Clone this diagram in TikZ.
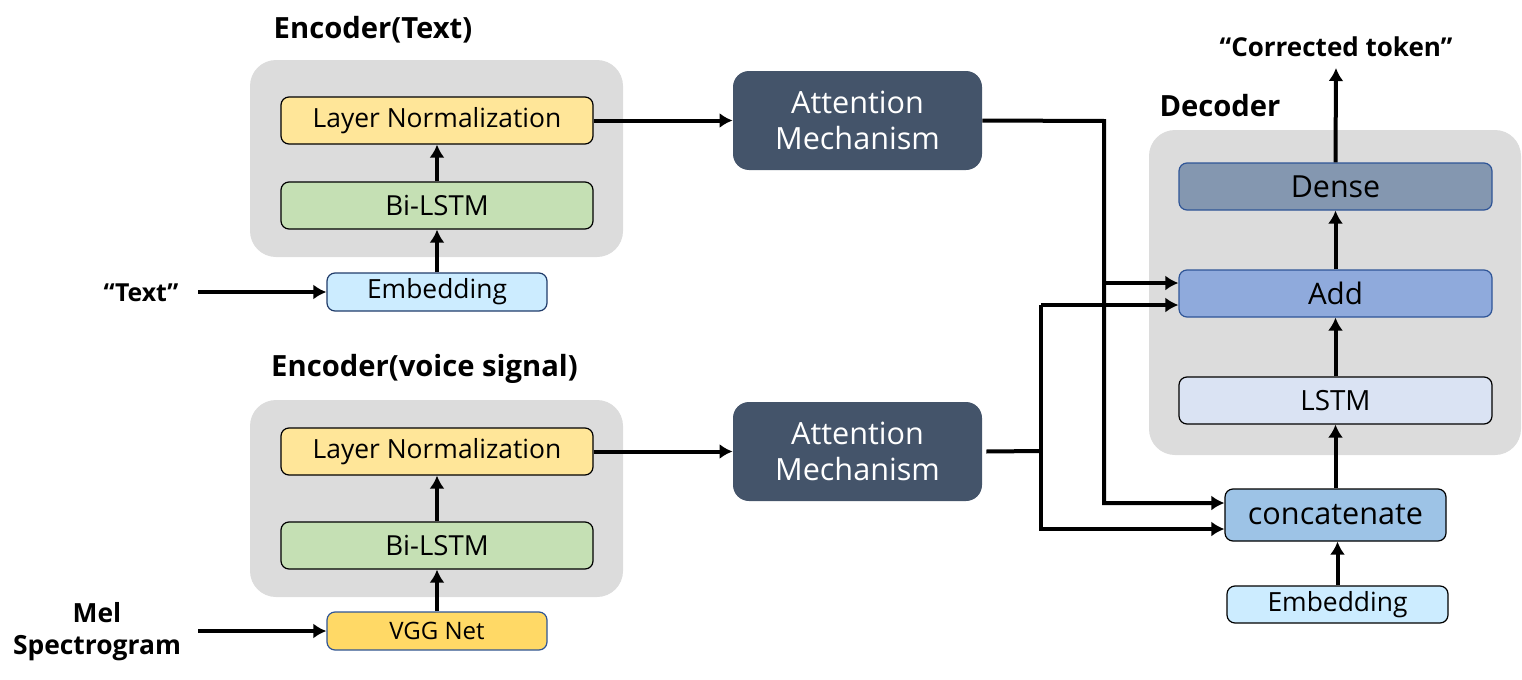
\documentclass[tikz,border=0pt]{standalone}
\usepackage{fontspec}
\setmainfont{Open Sans}
\usetikzlibrary{arrows.meta}
\definecolor{grayb}{HTML}{DCDCDC}
\definecolor{lnY}{HTML}{FFE699}
\definecolor{biG}{HTML}{C5E0B4}
\definecolor{embB}{HTML}{CCECFF}
\definecolor{vggY}{HTML}{FFD966}
\definecolor{attC}{HTML}{44546A}
\definecolor{denseC}{HTML}{8497B0}
\definecolor{addC}{HTML}{8FAADC}
\definecolor{lstmC}{HTML}{DAE3F3}
\definecolor{catC}{HTML}{9DC3E6}
\definecolor{bord}{HTML}{2F5597}
\tikzset{
  arr/.style={line width=2pt,-{Latex[length=6.5pt,width=7.5pt]}},
  ln/.style={line width=2pt},
  grp/.style={fill=grayb,draw=none,rounded corners=13pt},
  blk/.style={draw=black,line width=0.6pt,rounded corners=4pt,inner sep=0pt,align=center,font=\fontsize{13.2}{15}\selectfont},
  wide/.style={blk,minimum width=156pt,minimum height=23.5pt},
  small/.style={blk,minimum width=110pt,minimum height=19pt},
  att/.style={fill=attC,draw=none,rounded corners=8pt,text=white,minimum width=124.5pt,minimum height=49.5pt,align=center,inner sep=0pt,font=\fontsize{15.3}{18}\selectfont},
  ttl/.style={font=\bfseries\fontsize{14.6}{16}\selectfont,inner sep=0pt},
}
\begin{document}
\begin{tikzpicture}[x=0.5pt,y=-0.5pt]
\useasboundingbox (0,0) rectangle (1522,680);
% groups
\fill[grp] (250,60) rectangle (623,257);
\fill[grp] (250,400) rectangle (623,597);
\fill[grp] (1149,130) rectangle (1521,455);
% titles
\node[ttl] (t1) at (373,30) {Encoder(Text)};
\node[ttl] (t2) at (424.5,369) {Encoder(voice signal)};
\node[ttl] (t3) at (1220,106) {Decoder};
\node[ttl,font=\bfseries\fontsize{13}{15}\selectfont] (out) at (1336,47) {“Corrected token”};
\node[ttl,font=\bfseries\fontsize{12.4}{15}\selectfont] (txt) at (141,293) {“Text”};
\node[ttl,align=center,font=\bfseries\fontsize{13.2}{16}\selectfont] (mel) at (97,632) {Mel\\Spectrogram};
% encoder text
\node[wide,fill=lnY] (ln1) at (437,120.5) {Layer Normalization};
\node[wide,fill=biG,font=\fontsize{13.8}{16}\selectfont] (bi1) at (437,205.5) {Bi-LSTM};
\node[small,fill=embB,draw=bord!70!black] (emb1) at (437,292) {Embedding};
% encoder voice
\node[wide,fill=lnY] (ln2) at (437,451.5) {Layer Normalization};
\node[wide,fill=biG,font=\fontsize{13.8}{16}\selectfont] (bi2) at (437,545.5) {Bi-LSTM};
\node[small,fill=vggY,draw=bord,font=\fontsize{12}{14}\selectfont] (vgg) at (437,631) {VGG Net};
% attention
\node[att] (att1) at (857.5,120.5) {Attention\\Mechanism};
\node[att] (att2) at (857.5,451.5) {Attention\\Mechanism};
% decoder
\node[wide,fill=denseC,draw=bord,minimum width=156.5pt,font=\fontsize{15.2}{17}\selectfont] (dense) at (1335.5,186.5) {Dense};
\node[wide,fill=addC,draw=bord,minimum width=156.5pt,font=\fontsize{14.8}{17}\selectfont] (add) at (1335.5,293.5) {Add};
\node[wide,fill=lstmC,minimum width=156.5pt,font=\fontsize{13.9}{16}\selectfont] (lstm) at (1335.5,400.5) {LSTM};
\node[blk,fill=catC,minimum width=110.5pt,minimum height=26pt,font=\fontsize{15.3}{17}\selectfont] (cat) at (1335.5,515) {concatenate};
\node[blk,fill=embB,minimum width=110.5pt,minimum height=18.5pt] (emb3) at (1337.5,604.5) {Embedding};
% coordinates
\coordinate (s1) at (198,292);
\coordinate (s2) at (198,631);
\coordinate (j1) at (1104,121);
\coordinate (b1) at (1104,283);
\coordinate (b2) at (1041,305);
\coordinate (c1) at (1104,503);
\coordinate (c2) at (1041,529);
\coordinate (j2) at (1041,451);
\coordinate (o1) at (1336,68);
% encoder arrows
\draw[arr] (s1) -- (emb1.west);
\draw[arr] (emb1.north) -- (bi1.south);
\draw[arr] (bi1.north) -- (ln1.south);
\draw[arr] (ln1.east) -- (att1.west);
\draw[arr] (s2) -- (vgg.west);
\draw[arr] (vgg.north) -- (bi2.south);
\draw[arr] (bi2.north) -- (ln2.south);
\draw[arr] (ln2.east) -- (att2.west);
% attention to decoder
\draw[arr] (att1.east) -- (j1) -- (c1) -- (c1 -| cat.west);
\draw[arr] (b1) -- (b1 -| add.west);
\draw[ln] ([xshift=2pt]att2.east) -- (j2);
\draw[arr] (b2) -- (c2) -- (c2 -| cat.west);
\draw[arr] (b2) -- (b2 -| add.west);
% decoder arrows
\draw[arr] (emb3.north) -- (emb3.north |- cat.south);
\draw[arr] (cat.north -| lstm.south) -- (lstm.south);
\draw[arr] (lstm.north) -- (add.south);
\draw[arr] (add.north) -- (dense.south);
\draw[arr] (dense.north) -- (o1);
\end{tikzpicture}
\end{document}
